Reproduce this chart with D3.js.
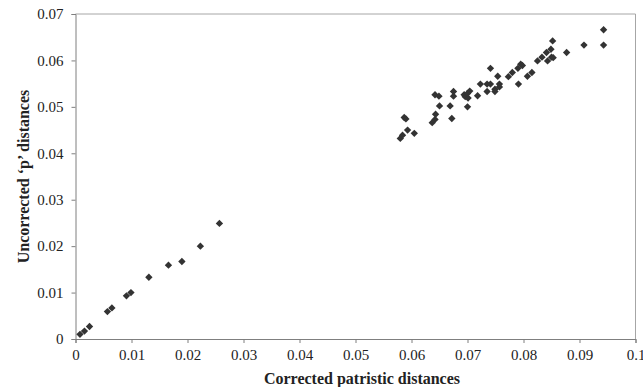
<!DOCTYPE html>
<meta charset="utf-8">
<script src="https://d3js.org/d3.v7.min.js"></script>
<body style="margin:0;background:#fff">
<svg width="643" height="387"></svg>
<style>
text { font-family: 'Liberation Serif', 'Times New Roman', serif; fill: #222; }
</style>
<script>
    // corrected patristic distance (x) vs uncorrected p distance (y)
    const patristic = [
        0.0008, 0.0016, 0.0025, 0.0057, 0.0065, 0.0091, 0.0099, 0.0131, 0.0166, 0.0190, 0.0223, 0.0257,
        0.0580, 0.0584, 0.0593, 0.0605, 0.0587, 0.0590, 0.0637, 0.0642, 0.0643, 0.0672,
        0.0650, 0.0669, 0.0642, 0.0649, 0.0675, 0.0675, 0.0694, 0.0700, 0.0696, 0.0700,
        0.0704, 0.0701, 0.0718, 0.0723, 0.0735, 0.0741, 0.0735, 0.0741, 0.0749, 0.0749,
        0.0754, 0.0757, 0.0757, 0.0773, 0.0780, 0.0790, 0.0795, 0.0798, 0.0791, 0.0807,
        0.0815, 0.0825, 0.0833, 0.0841, 0.0843, 0.0849, 0.0850, 0.0853, 0.0852, 0.0877,
        0.0908, 0.0943, 0.0943
    ];
    const pdist = [
        0.0010, 0.0017, 0.0027, 0.0059, 0.0067, 0.0093, 0.0100, 0.0133, 0.0159, 0.0167, 0.0200, 0.0249,
        0.0432, 0.0439, 0.0450, 0.0443, 0.0477, 0.0474, 0.0466, 0.0473, 0.0484, 0.0475,
        0.0502, 0.0502, 0.0526, 0.0523, 0.0533, 0.0523, 0.0526, 0.0500, 0.0522, 0.0529,
        0.0534, 0.0519, 0.0524, 0.0549, 0.0549, 0.0549, 0.0533, 0.0583, 0.0538, 0.0533,
        0.0566, 0.0549, 0.0543, 0.0565, 0.0574, 0.0583, 0.0592, 0.0589, 0.0549, 0.0566,
        0.0574, 0.0599, 0.0607, 0.0617, 0.0599, 0.0624, 0.0607, 0.0606, 0.0642, 0.0617,
        0.0633, 0.0666, 0.0633
    ];
    const xTicks = [0, 0.01, 0.02, 0.03, 0.04, 0.05, 0.06, 0.07, 0.08, 0.09, 0.1];
    const yTicks = [0, 0.01, 0.02, 0.03, 0.04, 0.05, 0.06, 0.07];

    const plotL = 75.5, plotR = 635.5, plotT = 14, plotB = 339;
    const svg = d3.select('svg');

    const x = d3.scaleLinear().domain([0, 0.1]).range([plotL, plotR]);
    const y = d3.scaleLinear().domain([0, 0.07]).range([plotB, plotT]);

    // frame (top and right)
    svg.append('path')
        .attr('d', `M${plotL},${plotT}H${plotR}V${plotB}`)
        .attr('fill', 'none')
        .attr('stroke', '#a6a6a6')
        .attr('stroke-width', 1);

    const fmt = d => String(+d.toFixed(2));
    const xAxis = svg.append('g')
        .attr('transform', `translate(0,${plotB})`)
        .call(d3.axisBottom(x).tickValues(xTicks).tickFormat(fmt).tickSize(4).tickPadding(6));
    const yAxis = svg.append('g')
        .attr('transform', `translate(${plotL},0)`)
        .call(d3.axisLeft(y).tickValues(yTicks).tickFormat(fmt).tickSize(4).tickPadding(8));

    [xAxis, yAxis].forEach(a => {
        a.attr('font-family', null).attr('font-size', null);
        a.select('.domain').attr('stroke', '#7f7f7f');
        a.selectAll('.tick line').attr('stroke', '#7f7f7f');
        a.selectAll('.tick text').attr('fill', '#222').style('font-size', '15px');
    });

    const pts = patristic.map((d, i) => ({x: d, y: pdist[i]}));
    svg.append('g').selectAll('path')
        .data(pts)
        .enter().append('path')
        .attr('d', d3.symbol(d3.symbolSquare, 27))
        .attr('transform', d => `translate(${x(d.x)},${y(d.y)}) rotate(45)`)
        .attr('fill', '#333');

    svg.append('text')
        .attr('x', 362).attr('y', 384)
        .attr('text-anchor', 'middle')
        .style('font-size', '16px').style('font-weight', 'bold')
        .text('Corrected patristic distances');

    svg.append('text')
        .attr('transform', `translate(29,${(plotT + plotB) / 2}) rotate(-90)`)
        .attr('text-anchor', 'middle')
        .style('font-size', '16px').style('font-weight', 'bold')
        .text('Uncorrected ‘p’ distances');
</script>
</body>
